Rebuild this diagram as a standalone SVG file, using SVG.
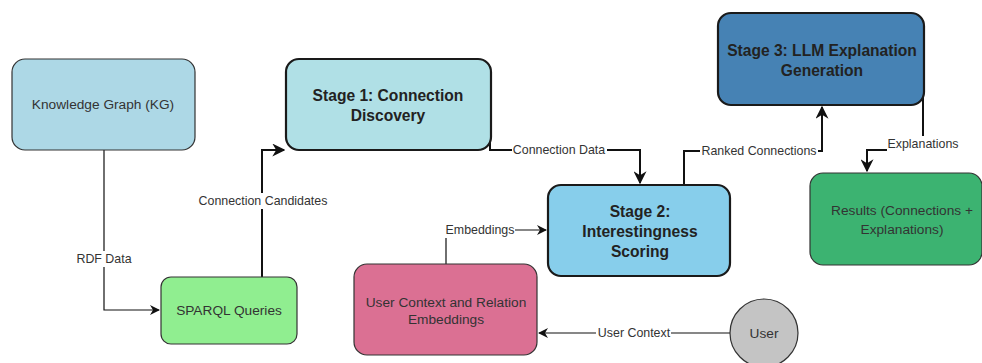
<svg xmlns="http://www.w3.org/2000/svg" width="982" height="363" viewBox="0 0 982 363">
  <style>
    .box { stroke: #333333; stroke-width: 1.2; }
    .stage { stroke: #1a1a1a; stroke-width: 2.2; }
    .txt { font-family: "Liberation Sans", Arial, sans-serif; font-size: 13.7px; fill: #333333; text-anchor: middle; dominant-baseline: central; }
    .bold { font-family: "Liberation Sans", Arial, sans-serif; font-size: 15.6px; font-weight: bold; fill: #222222; text-anchor: middle; dominant-baseline: central; }
    .lbl { font-family: "Liberation Sans", Arial, sans-serif; font-size: 12.4px; fill: #333333; text-anchor: middle; dominant-baseline: central; }
    .edge { fill: none; stroke: #111111; stroke-width: 1.2; }
    .edge.thick { stroke-width: 2; }
    .lblbg { fill: #ffffff; }
  </style>
  <defs>
    <marker id="arrow" viewBox="0 0 10 10" refX="9" refY="5" markerWidth="10" markerHeight="10" markerUnits="userSpaceOnUse" orient="auto">
      <path d="M0,0 L10,5 L0,10 L3,5 z" fill="#111111"/>
    </marker>
    <marker id="arrowBig" viewBox="0 0 10 10" refX="9" refY="5" markerWidth="13" markerHeight="13" markerUnits="userSpaceOnUse" orient="auto">
      <path d="M0,0 L10,5 L0,10 L3,5 z" fill="#111111"/>
    </marker>
  </defs>

  <rect width="982" height="363" fill="#ffffff"/>

  <!-- connectors -->
  <g id="connectors">
    <!-- RDF Data -->
    <path class="edge" d="M104,150 L104,310 L159,310" marker-end="url(#arrow)"/>
    <rect class="lblbg" x="75" y="251" width="58" height="16"/>
    <text class="lbl" x="104" y="259">RDF Data</text>

    <!-- Connection Candidates -->
    <path class="edge thick" d="M262,277 L262,150 L284,150" marker-end="url(#arrowBig)"/>
    <rect class="lblbg" x="197" y="193" width="132" height="16"/>
    <text class="lbl" x="263" y="201">Connection Candidates</text>

    <!-- Connection Data -->
    <path class="edge thick" d="M490,140 L490,150 L640,150 L640,183" marker-end="url(#arrowBig)"/>
    <rect class="lblbg" x="512" y="142" width="95" height="16"/>
    <text class="lbl" x="559" y="150">Connection Data</text>

    <!-- Embeddings -->
    <path class="edge" d="M446,264 L446,230 L546,230" marker-end="url(#arrow)"/>
    <rect class="lblbg" x="445" y="222" width="70" height="16"/>
    <text class="lbl" x="480" y="230">Embeddings</text>

    <!-- Ranked Connections -->
    <path class="edge thick" d="M684,185 L684,151 L822,151 L822,107" marker-end="url(#arrowBig)"/>
    <rect class="lblbg" x="700" y="143" width="118" height="16"/>
    <text class="lbl" x="759" y="151">Ranked Connections</text>

    <!-- Explanations -->
    <path class="edge thick" d="M923,92 L923,150 L867,150 L867,171" marker-end="url(#arrowBig)"/>
    <rect class="lblbg" x="887" y="136" width="73" height="16"/>
    <text class="lbl" x="923" y="144">Explanations</text>

    <!-- User Context -->
    <path class="edge" d="M730,333 L539,333" marker-end="url(#arrow)"/>
    <rect class="lblbg" x="596" y="325" width="75" height="16"/>
    <text class="lbl" x="634" y="333">User Context</text>
  </g>

  <!-- nodes -->
  <g id="kg">
    <rect class="box" x="12" y="59" width="183" height="91" rx="13" fill="#add8e6"/>
    <text class="txt" x="103" y="104">Knowledge Graph (KG)</text>
  </g>

  <g id="sparql">
    <rect class="box" x="161" y="277" width="136" height="67" rx="10" fill="#90ee90"/>
    <text class="txt" x="229" y="310">SPARQL Queries</text>
  </g>

  <g id="stage1">
    <rect class="stage" x="286" y="59" width="205" height="91" rx="13" fill="#b0e0e6"/>
    <text class="bold" x="388" y="95">Stage 1: Connection</text>
    <text class="bold" x="388" y="115">Discovery</text>
  </g>

  <g id="stage2">
    <rect class="stage" x="548" y="185" width="182" height="91" rx="13" fill="#87ceeb"/>
    <text class="bold" x="640" y="211">Stage 2:</text>
    <text class="bold" x="640" y="231">Interestingness</text>
    <text class="bold" x="640" y="251">Scoring</text>
  </g>

  <g id="stage3">
    <rect class="stage" x="718" y="13" width="206" height="92" rx="13" fill="#4682b4"/>
    <text class="bold" x="822" y="50">Stage 3: LLM Explanation</text>
    <text class="bold" x="822" y="70">Generation</text>
  </g>

  <g id="results">
    <rect class="box" x="810" y="173" width="172" height="92" rx="13" fill="#3cb371"/>
    <text class="txt" x="902" y="210">Results (Connections +</text>
    <text class="txt" x="902" y="229">Explanations)</text>
  </g>

  <g id="user-context">
    <rect class="box" x="354" y="264" width="183" height="91" rx="13" fill="#db7093"/>
    <text class="txt" x="446" y="302">User Context and Relation</text>
    <text class="txt" x="446" y="319">Embeddings</text>
  </g>

  <g id="user">
    <circle class="box" cx="764" cy="333" r="34" fill="#c4c4c4"/>
    <text class="txt" x="764" y="333">User</text>
  </g>
</svg>
